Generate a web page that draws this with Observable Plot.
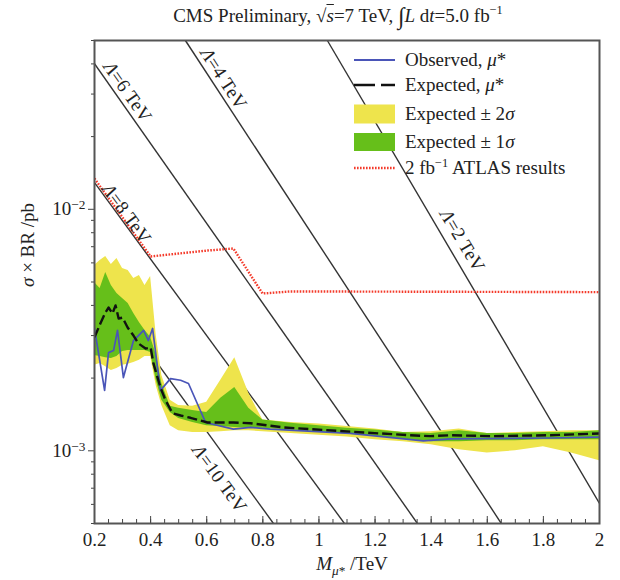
<!DOCTYPE html>
<html><head><meta charset="utf-8">
<script src="https://cdn.jsdelivr.net/npm/d3@7"></script>
<script src="https://cdn.jsdelivr.net/npm/@observablehq/plot@0.6"></script>
<style>
body{margin:0;background:#fff;font-family:"Liberation Serif",serif;color:#222;}
#wrap{position:relative;width:620px;height:580px;overflow:hidden;}
#title{position:absolute;top:3px;left:0;width:676px;text-align:center;font-size:19px;white-space:nowrap;}
#chart{position:absolute;top:32px;left:0;}
.lg{position:absolute;left:354px;height:24px;display:flex;align-items:center;font-size:19px;white-space:nowrap;}
.lg svg{margin-right:10px;}
#xlabel{position:absolute;top:553px;left:0;width:704px;text-align:center;font-size:19px;}
#ylabel{position:absolute;left:28px;top:245px;transform:translate(-50%,-50%) rotate(-90deg);font-size:19px;white-space:nowrap;}
</style></head><body>
<div id="wrap">
  <div id="title">CMS Preliminary, √<span style="text-decoration:overline"><i>s</i></span>=7 TeV, <span style="font-size:1.25em;vertical-align:-0.1em">∫</span><i>L</i> d<i>t</i>=5.0 fb<sup style="font-size:0.65em">−1</sup></div>
  <div id="chart"></div>
  <div class="lg" style="top:48px"><svg width="41" height="24"><line x1="0" x2="41" y1="12" y2="12" stroke="#4a55b8" stroke-width="2"/></svg><span>Observed, <i>μ</i>*</span></div>
  <div class="lg" style="top:73px"><svg width="41" height="24"><line x1="0" x2="41" y1="12" y2="12" stroke="#111" stroke-width="2.4" stroke-dasharray="21,6"/></svg><span>Expected, <i>μ</i>*</span></div>
  <div class="lg" style="top:102px"><svg width="41" height="24"><rect x="0" y="2.5" width="41" height="19" fill="#eee44c"/></svg><span>Expected ± 2<i>σ</i></span></div>
  <div class="lg" style="top:130px"><svg width="41" height="24"><rect x="0" y="3" width="41" height="18" fill="#66bf1a"/></svg><span>Expected ± 1<i>σ</i></span></div>
  <div class="lg" style="top:156px"><svg width="41" height="24"><line x1="0" x2="41" y1="12" y2="12" stroke="#f43a2a" stroke-width="2.4" stroke-dasharray="1.6,1.4"/></svg><span>2 fb<sup style="font-size:0.65em">−1</sup> ATLAS results</span></div>
  <div id="xlabel"><i>M</i><sub style="font-size:0.7em"><i>μ</i>*</sub> /TeV</div>
  <div id="ylabel"><i>σ</i> × BR /pb</div>
</div>
<script>
// ---- data ----
const bandM    = [0.2,0.22,0.24,0.26,0.28,0.30,0.32,0.34,0.36,0.38,0.40,0.42,0.44,0.47,0.50,0.55,0.60,0.65,0.70,0.75,0.80,0.9,1.0,1.1,1.2,1.3,1.4,1.5,1.6,1.7,1.8,1.9,2.0];
const yellowHi = [0.00585,0.00614,0.00638,0.00591,0.00625,0.00569,0.00558,0.00517,0.00532,0.00484,0.00527,0.00300,0.00205,0.00162,0.00154,0.00153,0.00159,0.00196,0.00243,0.00173,0.00134,0.00131,0.00129,0.00126,0.00123,0.00119,0.00120,0.00123,0.00118,0.00119,0.00120,0.00121,0.00121];
const yellowLo = [0.00226,0.00230,0.00223,0.00215,0.00219,0.00226,0.00228,0.00232,0.00237,0.00246,0.00246,0.00186,0.00154,0.00127,0.00121,0.00119,0.00119,0.00120,0.00121,0.00121,0.00120,0.00118,0.00116,0.00114,0.00111,0.00109,0.00106,0.00101,0.00098,0.00100,0.00104,0.00098,0.00091];
const greenHi  = [0.00498,0.00470,0.00547,0.00484,0.00448,0.00427,0.00407,0.00370,0.00340,0.00315,0.00295,0.00250,0.00190,0.00153,0.00150,0.00147,0.00144,0.00165,0.00183,0.00150,0.00134,0.00130,0.00127,0.00124,0.00122,0.00119,0.00118,0.00121,0.00118,0.00118,0.00119,0.00119,0.00121];
const greenLo  = [0.00248,0.00246,0.00243,0.00241,0.00246,0.00258,0.00260,0.00260,0.00260,0.00260,0.00255,0.00196,0.00162,0.00144,0.00136,0.00131,0.00127,0.00126,0.00125,0.00124,0.00124,0.00122,0.00120,0.00117,0.00115,0.00112,0.00109,0.00109,0.00110,0.00110,0.00111,0.00111,0.00111];

const observedM = [0.2,0.236,0.250,0.268,0.282,0.303,0.339,0.375,0.392,0.407,0.435,0.471,0.507,0.535,0.596,0.695,0.756,0.827,1.112,1.372,1.469,1.825,2.0];
const observedS = [0.00321,0.00178,0.00255,0.00260,0.00315,0.00201,0.00286,0.00315,0.00286,0.00321,0.00178,0.00199,0.00196,0.00190,0.00131,0.00123,0.00125,0.00123,0.00118,0.00110,0.00112,0.00113,0.00114];

const expectedM = [0.2,0.221,0.239,0.250,0.264,0.275,0.286,0.300,0.318,0.339,0.357,0.382,0.400,0.410,0.435,0.453,0.478,0.507,0.542,0.603,0.695,0.756,0.874,1.112,1.326,1.397,1.469,1.611,1.825,2.0];
const expectedS = [0.00295,0.00337,0.00374,0.00392,0.00370,0.00400,0.00353,0.00356,0.00324,0.00300,0.00278,0.00265,0.00268,0.00230,0.00183,0.00162,0.00143,0.00140,0.00137,0.00131,0.00131,0.00130,0.00125,0.00120,0.00116,0.00115,0.00116,0.00115,0.00116,0.00118];

const atlasM = [0.2,0.364,0.4,0.603,0.695,0.799,0.898,2.0];
const atlasS = [0.01341,0.00729,0.00638,0.00675,0.00688,0.00448,0.00457,0.00454];

const lambdaTeV = [10, 8, 6, 4, 2];
const lambdaM1 = [0.2, 0.2, 0.2, 0.524, 1.030];
const lambdaS1 = [0.00527, 0.0129, 0.0401, 0.05, 0.05];
const lambdaM2 = [0.838, 1.091, 1.351, 1.650, 2.0];
const lambdaS2 = [0.0005, 0.0005, 0.0005, 0.0005, 0.000605];
const lambdaLabelM = [0.645, 0.314, 0.318, 0.660, 1.511];
const lambdaLabelS = [0.000768, 0.0096, 0.0307, 0.0348, 0.00743];

const xMajor = [0.2,0.4,0.6,0.8,1,1.2,1.4,1.6,1.8,2];
const xMinor = d3.range(0.2, 2.0001, 0.05).map(v => +v.toFixed(2));
const yMajor = [1e-3, 1e-2];
const yMinor = [5e-4,6e-4,7e-4,8e-4,9e-4,2e-3,3e-3,4e-3,5e-3,6e-3,7e-3,8e-3,9e-3,2e-2,3e-2,4e-2,5e-2];

// ---- styles ----
const labelAngle = [54, 54, 55, 57, 59];

const bands = bandM.map((m, i) => ({m, yl: yellowLo[i], yh: yellowHi[i], gl: greenLo[i], gh: greenHi[i]}));
const observed = observedM.map((m, i) => ({m, s: observedS[i]}));
const expected = expectedM.map((m, i) => ({m, s: expectedS[i]}));
const atlas = atlasM.map((m, i) => ({m, s: atlasS[i]}));
const idx = d3.range(lambdaTeV.length);

const chart = Plot.plot({
  width: 620, height: 548,
  marginLeft: 94, marginRight: 21, marginTop: 8, marginBottom: 57,
  x: {domain: [0.2, 2]},
  y: {type: "log", domain: [5e-4, 5e-2]},
  style: {fontFamily: "'Liberation Serif', serif", fontSize: "19px", color: "#222", background: "transparent"},
  marks: [
    Plot.link(idx, {x1: i => lambdaM1[i], y1: i => lambdaS1[i], x2: i => lambdaM2[i], y2: i => lambdaS2[i], stroke: "#333", strokeWidth: 1.4, clip: true}),
    Plot.areaY(bands, {x: "m", y1: "yl", y2: "yh", fill: "#eee44c", clip: true}),
    Plot.areaY(bands, {x: "m", y1: "gl", y2: "gh", fill: "#66bf1a", clip: true}),
    Plot.line(atlas, {x: "m", y: "s", stroke: "#f43a2a", strokeWidth: 2.4, strokeDasharray: "1.6,1.4", strokeLinecap: "butt", strokeLinejoin: "miter", clip: true}),
    Plot.line(observed, {x: "m", y: "s", stroke: "#4a55b8", strokeWidth: 1.7, clip: true}),
    Plot.line(expected, {x: "m", y: "s", stroke: "#111", strokeWidth: 2.4, strokeDasharray: "10,4", strokeLinecap: "butt", clip: true}),
    Plot.text(idx, {x: i => lambdaLabelM[i], y: i => lambdaLabelS[i], text: i => "Λ=" + lambdaTeV[i] + " TeV", rotate: i => labelAngle[i], fontSize: 19, fill: "#222"}),
    Plot.tickX(xMinor, {x: d => d, insetTop: 479, stroke: "#444"}),
    Plot.tickX(xMajor, {x: d => d, insetTop: 476, stroke: "#444"}),
    Plot.axisX({ticks: xMajor, tickSize: 0, tickPadding: 9, tickFormat: d => String(+d.toFixed(1)), label: null, fontSize: 19}),
    Plot.axisY({ticks: yMinor, tickSize: 3, tickFormat: () => "", label: null, stroke: "#444"}),
    Plot.axisY({ticks: yMajor, tickSize: 6, tickPadding: 3, tickFormat: d => "10^" + Math.round(Math.log10(d)), label: null, fontSize: 19, stroke: "#444"}),
    Plot.frame({stroke: "#555", strokeWidth: 2})
  ]
});
document.getElementById("chart").appendChild(chart);

// superscript exponents on y tick labels, italic Λ on the contact-interaction labels
d3.select(chart).selectAll("text").each(function() {
  const t = this.textContent;
  if (/^10\^-?\d+$/.test(t)) {
    const exp = t.split("^")[1].replace("-", "−");
    const sel = d3.select(this);
    sel.text(null);
    sel.append("tspan").text("10");
    sel.append("tspan").attr("dy", "-0.45em").attr("font-size", "0.7em").text(exp);
  } else if (/^Λ=/.test(t)) {
    const sel = d3.select(this);
    const rest = t.slice(1);
    sel.text(null);
    sel.append("tspan").attr("font-style", "italic").text("Λ");
    sel.append("tspan").text(rest);
  }
});
</script>
</body></html>
